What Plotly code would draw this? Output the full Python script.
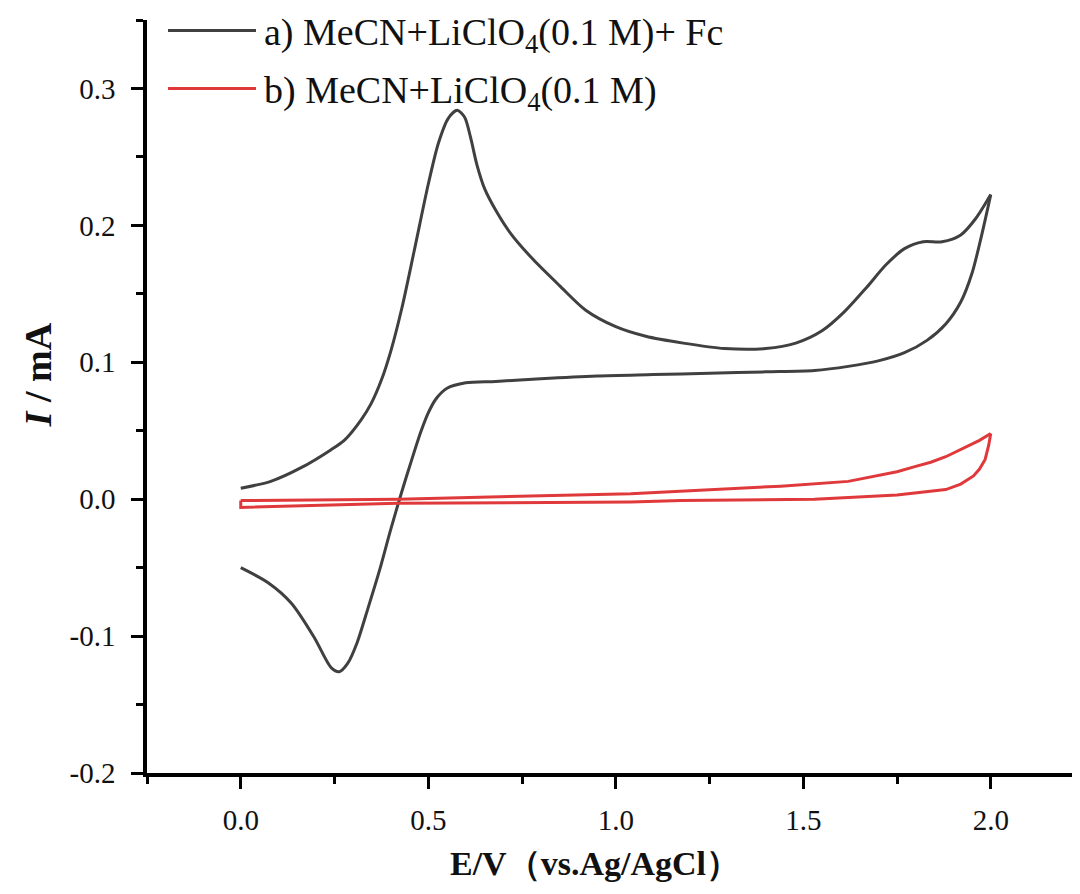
import plotly.graph_objects as go

# ---- data (E in V vs Ag/AgCl, I in mA) ----
fc_fwd_E = [0.0, 0.08, 0.161, 0.24, 0.276, 0.321, 0.348, 0.375, 0.40, 0.43, 0.463, 0.50, 0.527, 0.553,
            0.577, 0.597, 0.613, 0.63, 0.65, 0.68, 0.72, 0.78, 0.85, 0.92, 1.00, 1.08, 1.18, 1.29,
            1.40, 1.48, 1.55, 1.61, 1.67, 1.72, 1.77, 1.82, 1.87, 1.92, 1.96, 2.0]
fc_fwd_I = [0.008, 0.013, 0.023, 0.036, 0.043, 0.058, 0.070, 0.087, 0.108, 0.140, 0.182, 0.230, 0.260, 0.278,
            0.284, 0.279, 0.264, 0.244, 0.227, 0.211, 0.194, 0.175, 0.156, 0.138, 0.126, 0.119, 0.114, 0.110,
            0.110, 0.114, 0.123, 0.137, 0.155, 0.171, 0.183, 0.188, 0.188, 0.193, 0.205, 0.2225]
fc_rev_E = [2.0, 1.975, 1.95, 1.92, 1.88, 1.83, 1.77, 1.70, 1.62, 1.53, 1.40, 1.25, 1.10, 0.95, 0.80,
            0.68, 0.60, 0.55, 0.52, 0.50, 0.48, 0.455, 0.43, 0.40, 0.37, 0.34, 0.31, 0.285, 0.263,
            0.241, 0.196, 0.135, 0.073, 0.0]
fc_rev_I = [0.2225, 0.192, 0.165, 0.144, 0.128, 0.116, 0.107, 0.101, 0.097, 0.094, 0.093, 0.092, 0.091, 0.090,
            0.088, 0.086, 0.085, 0.081, 0.073, 0.063, 0.049, 0.028, 0.006, -0.022, -0.052, -0.079, -0.105,
            -0.120, -0.126, -0.123, -0.101, -0.076, -0.061, -0.050]

bl_fwd_E = [0.0, 0.42, 1.04, 1.175, 1.44, 1.62, 1.70, 1.75, 1.80, 1.84, 1.88, 1.93, 1.97, 2.0]
bl_fwd_I = [-0.001, 0.0, 0.004, 0.006, 0.0095, 0.013, 0.017, 0.020, 0.024, 0.027, 0.031, 0.038, 0.043, 0.048]
bl_rev_E = [2.0, 1.995, 1.985, 1.97, 1.954, 1.92, 1.88, 1.82, 1.75, 1.53, 1.175, 1.04, 0.42, 0.0, 0.0]
bl_rev_I = [0.048, 0.040, 0.029, 0.022, 0.017, 0.011, 0.007, 0.005, 0.003, 0.0, -0.001, -0.002, -0.003,
            -0.006, -0.001]

legend_labels = ["a) MeCN+LiClO<sub>4</sub>(0.1 M)+ Fc", "b) MeCN+LiClO<sub>4</sub>(0.1 M)"]
colors = ["#404040", "#E0393B"]

x_ticks = [0.0, 0.5, 1.0, 1.5, 2.0]
y_ticks = [-0.2, -0.1, 0.0, 0.1, 0.2, 0.3]

FONT = "Liberation Serif, Times New Roman, serif"

fig = go.Figure()
for E, I, c, shp in [(fc_fwd_E, fc_fwd_I, colors[0], "spline"), (fc_rev_E, fc_rev_I, colors[0], "spline"),
                     (bl_fwd_E, bl_fwd_I, colors[1], "linear"), (bl_rev_E, bl_rev_I, colors[1], "linear")]:
    line = dict(color=c, width=3, shape=shp)
    if shp == "spline":
        line["smoothing"] = 0.8
    fig.add_trace(go.Scatter(x=E, y=I, mode="lines", showlegend=False, line=line))

# layout geometry (figure pixels; the page body adds an 8 px offset)
OFF = 8
W, H = 1072, 878
L, R, T, B = 139, 0, 11.5, 113
pw, ph = W - L - R, H - T - B

def px(sx):
    return (sx - OFF - L) / pw

def py(sy):
    return (H - B - (sy - OFF)) / ph

# manual legend
for i, (lab, c) in enumerate(zip(legend_labels, colors)):
    yl = [30, 88][i]
    fig.add_shape(type="line", xref="paper", yref="paper", x0=px(168), x1=px(256),
                  y0=py(yl), y1=py(yl), line=dict(color=c, width=3))
    fig.add_annotation(xref="paper", yref="paper", x=px(262), y=py(yl + 5), text=lab,
                       showarrow=False, xanchor="left", yanchor="middle",
                       font=dict(family=FONT, size=38, color="#111111"))

# axis titles
fig.add_annotation(xref="paper", yref="paper", x=px(595), y=py(864),
                   text="<b>E/V（vs.Ag/AgCl）</b>", showarrow=False,
                   xanchor="center", yanchor="middle",
                   font=dict(family=FONT, size=34, color="#111111"))
fig.add_annotation(xref="paper", yref="paper", x=px(38), y=py(375),
                   text="<b><i>I</i> / mA</b>", showarrow=False, textangle=-90,
                   xanchor="center", yanchor="middle",
                   font=dict(family=FONT, size=38, color="#111111"))

axis_common = dict(showline=True, linecolor="black", linewidth=3.5, ticks="outside",
                   ticklen=12, tickwidth=3, tickcolor="black", showgrid=False, zeroline=False,
                   mirror=False, tickfont=dict(family=FONT, size=29, color="#111111"))

fig.update_xaxes(range=[-0.25, 2.238], tickvals=x_ticks, ticktext=[f"{v:.1f}" for v in x_ticks],
                 minor=dict(dtick=0.25, tick0=0, ticks="outside", ticklen=7, tickwidth=3,
                            tickcolor="black", showgrid=False),
                 ticklabelstandoff=6, **axis_common)
fig.update_yaxes(range=[-0.2, 0.35], tickvals=y_ticks, ticktext=[f"{v:.1f}" for v in y_ticks],
                 minor=dict(dtick=0.05, tick0=0, ticks="outside", ticklen=7, tickwidth=3,
                            tickcolor="black", showgrid=False),
                 ticklabelstandoff=10, **axis_common)

fig.update_layout(width=W, height=H, margin=dict(l=L, r=R, t=T, b=B, pad=0),
                  plot_bgcolor="white", paper_bgcolor="white", showlegend=False)

fig.write_html("out.html")
